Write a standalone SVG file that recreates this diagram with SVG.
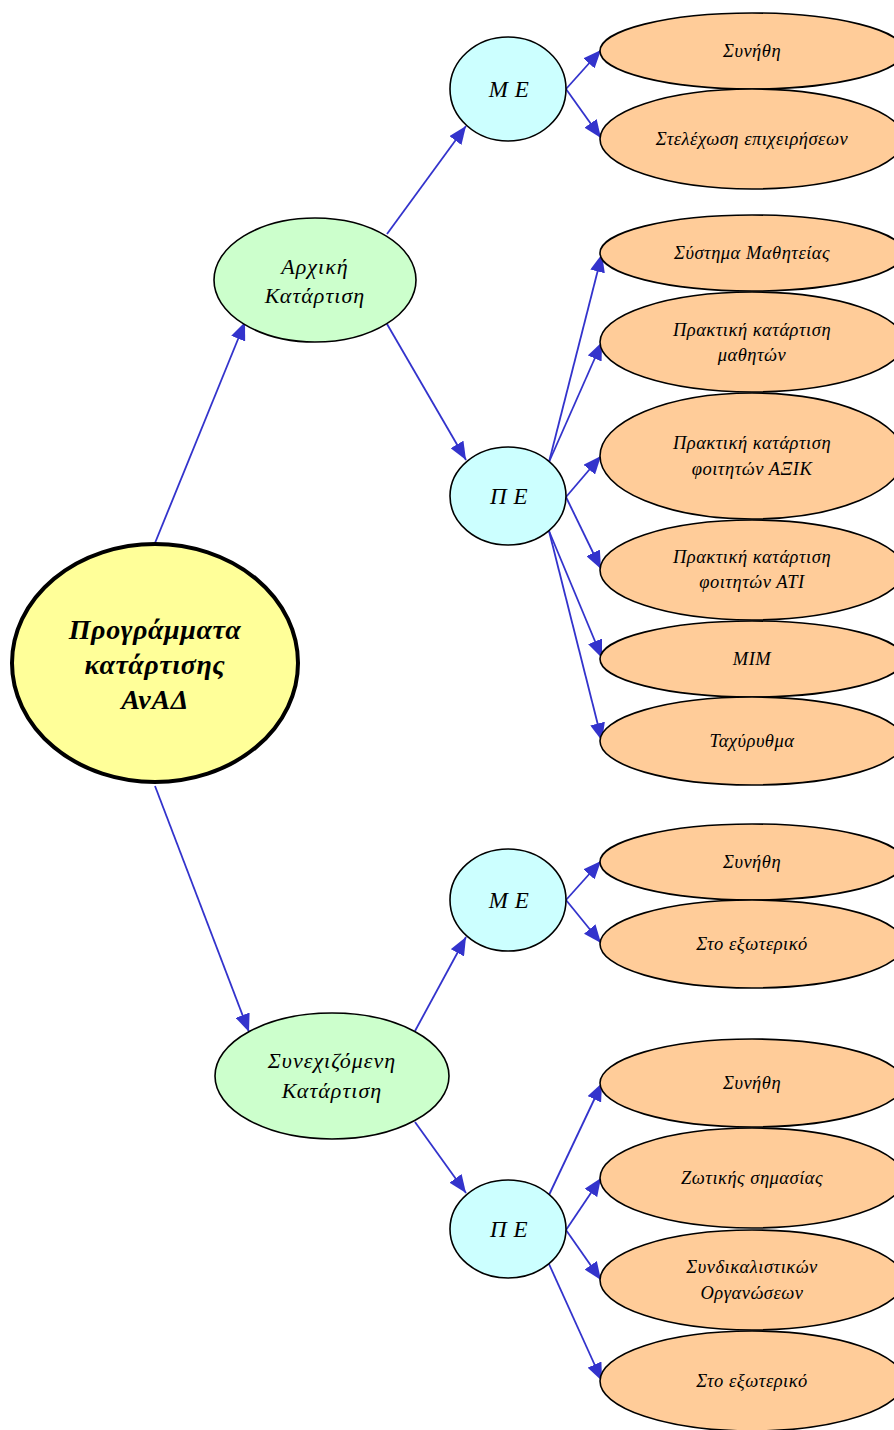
<svg xmlns="http://www.w3.org/2000/svg" width="894" height="1430" viewBox="0 0 894 1430">
<style>
text{font-family:"Liberation Serif","DejaVu Serif",serif;font-style:italic;fill:#000;text-anchor:middle}
.root ellipse{fill:#ffff99;stroke:#000;stroke-width:4}
.root text{font-size:28px;font-weight:bold;letter-spacing:0.6px}
.mid ellipse{fill:#ccffcc;stroke:#000;stroke-width:1.6}
.mid text{font-size:22px;letter-spacing:1px}
.sub ellipse{fill:#ccffff;stroke:#000;stroke-width:1.6}
.sub text{font-size:23px;letter-spacing:0.5px}
.leaf ellipse{fill:#ffcc99;stroke:#000;stroke-width:1.6}
.leaf text{font-size:18.5px;letter-spacing:0.5px}
#edges line{stroke:#3333cc;stroke-width:1.8;marker-end:url(#ah)}
</style>
<defs>
<marker id="ah" markerUnits="userSpaceOnUse" markerWidth="19" markerHeight="15" refX="18" refY="7.5" orient="auto">
<path d="M0,0 L18,7.5 L0,15 z" fill="#3333cc"/>
</marker>
</defs>
<rect width="894" height="1430" fill="#fff"/>
<g id="edges">
<line x1="155" y1="543" x2="245" y2="322"/>
<line x1="155" y1="786" x2="249" y2="1032"/>
<line x1="387" y1="234" x2="466" y2="126"/>
<line x1="387" y1="324" x2="466" y2="460"/>
<line x1="566" y1="89" x2="601" y2="50"/>
<line x1="566" y1="89" x2="601" y2="138"/>
<line x1="549" y1="462" x2="602" y2="254"/>
<line x1="549" y1="462" x2="602" y2="342"/>
<line x1="566" y1="497" x2="601" y2="456"/>
<line x1="566" y1="497" x2="601" y2="569"/>
<line x1="549" y1="531" x2="602" y2="658"/>
<line x1="549" y1="531" x2="602" y2="741"/>
<line x1="415" y1="1031" x2="466" y2="937"/>
<line x1="415" y1="1122" x2="466" y2="1193"/>
<line x1="566" y1="900" x2="601" y2="861"/>
<line x1="566" y1="900" x2="601" y2="943"/>
<line x1="549" y1="1195" x2="602" y2="1083"/>
<line x1="566" y1="1230" x2="601" y2="1178"/>
<line x1="566" y1="1230" x2="601" y2="1280"/>
<line x1="549" y1="1264" x2="602" y2="1381"/>
</g>
<g id="root" class="root">
<ellipse cx="155" cy="663" rx="143" ry="119"/>
<text x="155" y="639">Προγράμματα</text>
<text x="155" y="674">κατάρτισης</text>
<text x="155" y="709">ΑνΑΔ</text>
</g>
<g id="arxiki" class="mid">
<ellipse cx="315" cy="280" rx="101" ry="62"/>
<text x="315" y="274">Αρχική</text>
<text x="315" y="303">Κατάρτιση</text>
</g>
<g id="synex" class="mid">
<ellipse cx="332" cy="1076" rx="117" ry="63"/>
<text x="332" y="1068">Συνεχιζόμενη</text>
<text x="332" y="1098">Κατάρτιση</text>
</g>
<g id="me1" class="sub">
<ellipse cx="508" cy="89" rx="58" ry="52"/>
<text x="509" y="97">Μ Ε</text>
</g>
<g id="pe1" class="sub">
<ellipse cx="508" cy="496" rx="58" ry="49"/>
<text x="509" y="504">Π Ε</text>
</g>
<g id="me2" class="sub">
<ellipse cx="508" cy="900" rx="58" ry="51"/>
<text x="509" y="908">Μ Ε</text>
</g>
<g id="pe2" class="sub">
<ellipse cx="508" cy="1229" rx="58" ry="49"/>
<text x="509" y="1237">Π Ε</text>
</g>
<g id="l1" class="leaf">
<ellipse cx="752" cy="51" rx="152" ry="38"/>
<text x="752" y="57">Συνήθη</text>
</g>
<g id="l2" class="leaf">
<ellipse cx="752" cy="139" rx="152" ry="50"/>
<text x="752" y="145">Στελέχωση επιχειρήσεων</text>
</g>
<g id="l3" class="leaf">
<ellipse cx="752" cy="253" rx="152" ry="38"/>
<text x="752" y="259">Σύστημα Μαθητείας</text>
</g>
<g id="l4" class="leaf">
<ellipse cx="752" cy="342" rx="152" ry="50"/>
<text x="752" y="336">Πρακτική κατάρτιση</text>
<text x="752" y="361">μαθητών</text>
</g>
<g id="l5" class="leaf">
<ellipse cx="752" cy="456" rx="152" ry="63"/>
<text x="752" y="449">Πρακτική κατάρτιση</text>
<text x="752" y="475">φοιτητών ΑΞΙΚ</text>
</g>
<g id="l6" class="leaf">
<ellipse cx="752" cy="570" rx="152" ry="50"/>
<text x="752" y="563">Πρακτική κατάρτιση</text>
<text x="752" y="588">φοιτητών ΑΤΙ</text>
</g>
<g id="l7" class="leaf">
<ellipse cx="752" cy="659" rx="152" ry="38"/>
<text x="752" y="665">ΜΙΜ</text>
</g>
<g id="l8" class="leaf">
<ellipse cx="752" cy="741" rx="152" ry="44"/>
<text x="752" y="747">Ταχύρυθμα</text>
</g>
<g id="l9" class="leaf">
<ellipse cx="752" cy="862" rx="152" ry="38"/>
<text x="752" y="868">Συνήθη</text>
</g>
<g id="l10" class="leaf">
<ellipse cx="752" cy="944" rx="152" ry="44"/>
<text x="752" y="950">Στο εξωτερικό</text>
</g>
<g id="l11" class="leaf">
<ellipse cx="752" cy="1083" rx="152" ry="44"/>
<text x="752" y="1089">Συνήθη</text>
</g>
<g id="l12" class="leaf">
<ellipse cx="752" cy="1178" rx="152" ry="50"/>
<text x="752" y="1184">Ζωτικής σημασίας</text>
</g>
<g id="l13" class="leaf">
<ellipse cx="752" cy="1280" rx="152" ry="50"/>
<text x="752" y="1273">Συνδικαλιστικών</text>
<text x="752" y="1299">Οργανώσεων</text>
</g>
<g id="l14" class="leaf">
<ellipse cx="752" cy="1381" rx="152" ry="50"/>
<text x="752" y="1387">Στο εξωτερικό</text>
</g>
</svg>
